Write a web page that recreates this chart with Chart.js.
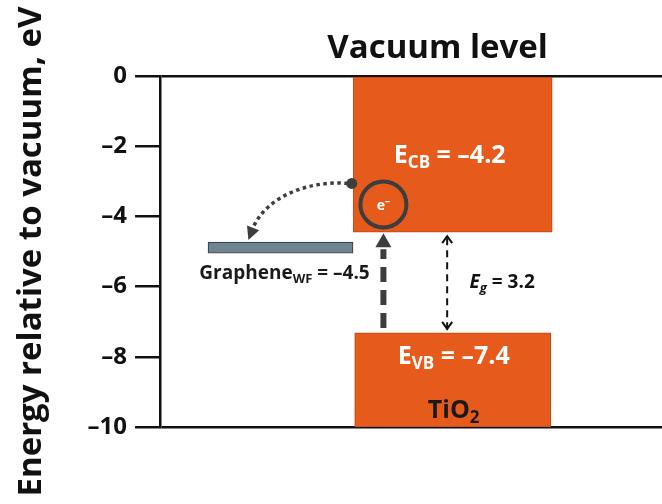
<!DOCTYPE html>
<html>
<head>
<meta charset="utf-8">
<script src="https://cdn.jsdelivr.net/npm/chart.js@4/dist/chart.umd.min.js"></script>
<style>
html, body { margin: 0; padding: 0; background: #fff; }
#wrap { width: 662px; height: 504px; }
</style>
</head>
<body>
<div id="wrap"><canvas id="myChart" width="662" height="504"></canvas></div>
<script>
// energy levels, eV relative to vacuum
var bandNames = ['TiO2 conduction band', 'TiO2 valence band', 'Graphene'];
var bandTop = [0, -7.32, -4.73];
var bandBottom = [-4.45, -10, -5.05];
var levelSubs = ['CB', 'VB', 'WF'];
var levelValues = [-4.2, -7.4, -4.5];
var bandGap = 3.2;
var electronLevel = -3.66;
var yTicks = [0, -2, -4, -6, -8, -10];

var ORANGE = '#E65B1C';
var DARK = '#3d3d3d';
var FONT = '"Open Sans", sans-serif';

Chart.defaults.font.family = FONT;

function fmt(v) {
	return v < 0 ? '\u2013' + Math.abs(v) : '' + v;
}

// draw text made of several runs (subscripts etc) centred on cx
function drawRuns(ctx, parts, cx, base, color) {
	var total = 0;
	parts.forEach(function(p) {
		ctx.font = (p.it ? 'italic ' : '') + 'bold ' + p.s + 'px ' + FONT;
		p.w = ctx.measureText(p.t).width;
		total += p.w;
	});
	var x = cx - total / 2;
	ctx.fillStyle = color;
	ctx.textAlign = 'left';
	ctx.textBaseline = 'alphabetic';
	parts.forEach(function(p) {
		ctx.font = (p.it ? 'italic ' : '') + 'bold ' + p.s + 'px ' + FONT;
		ctx.fillText(p.t, x, base + (p.dy || 0));
		x += p.w;
	});
}

function head(ctx, tx, ty, ang, len, hw, filled) {
	var bx = tx - Math.cos(ang) * len, by = ty - Math.sin(ang) * len;
	var nx = -Math.sin(ang) * hw, ny = Math.cos(ang) * hw;
	ctx.beginPath();
	ctx.setLineDash([]);
	if (filled) {
		ctx.moveTo(tx, ty);
		ctx.lineTo(bx + nx, by + ny);
		ctx.lineTo(bx - nx, by - ny);
		ctx.closePath();
		ctx.fill();
	} else {
		ctx.moveTo(bx + nx, by + ny);
		ctx.lineTo(tx, ty);
		ctx.lineTo(bx - nx, by - ny);
		ctx.stroke();
	}
}

var overlay = {
	id: 'overlay',
	afterDraw: function(chart) {
		var ctx = chart.ctx;
		var xs = chart.scales.x, ys = chart.scales.y;
		var px = function(u) { return xs.getPixelForValue(u); };
		var py = function(v) { return ys.getPixelForValue(v); };
		ctx.save();

		//vacuum level title
		drawRuns(ctx, [{t: 'Vacuum level', s: 33}], px(55.3), py(0) - 18, '#111');

		//band labels
		drawRuns(ctx, [{t: 'E', s: 25}, {t: levelSubs[0], s: 17, dy: 5}, {t: ' = ' + fmt(levelValues[0]), s: 25}],
			px(58.3) - 3, py(bandTop[0]) + 87, '#fff');
		drawRuns(ctx, [{t: 'E', s: 25}, {t: levelSubs[1], s: 17, dy: 5}, {t: ' = ' + fmt(levelValues[1]), s: 25}],
			px(58.3) + 1, py(bandTop[1]) + 31, '#fff');
		drawRuns(ctx, [{t: 'TiO', s: 25}, {t: '2', s: 17, dy: 5}], px(58.3) + 1, py(-10) - 9, '#1a1a1a');
		drawRuns(ctx, [{t: 'Graphene', s: 19}, {t: levelSubs[2], s: 13, dy: 4}, {t: ' = ' + fmt(levelValues[2]), s: 19}],
			px(24) + 4, py(bandBottom[2]) + 26, '#1a1a1a');

		//band gap arrow
		var gx = px(57.2);
		var gTop = py(bandBottom[0]) + 4, gBot = py(bandTop[1]) - 4;
		ctx.strokeStyle = '#111';
		ctx.fillStyle = '#111';
		ctx.lineWidth = 2;
		ctx.setLineDash([7, 5]);
		ctx.beginPath();
		ctx.moveTo(gx, gTop + 2);
		ctx.lineTo(gx, gBot - 2);
		ctx.stroke();
		head(ctx, gx, gTop, -Math.PI / 2, 7, 5, false);
		head(ctx, gx, gBot, Math.PI / 2, 7, 5, false);
		drawRuns(ctx, [{t: 'E', s: 19, it: true}, {t: 'g', s: 13, it: true, dy: 4}, {t: ' = ' + bandGap, s: 19}],
			gx + 55, (gTop + gBot) / 2 + 5, '#111');

		//electron excitation arrow
		var ex = px(44.5);
		var tip = py(bandBottom[0]) + 1;
		var bot = py(bandTop[1]) - 5;
		ctx.strokeStyle = DARK;
		ctx.fillStyle = DARK;
		ctx.lineWidth = 6;
		ctx.setLineDash([15, 8]);
		ctx.beginPath();
		ctx.moveTo(ex, bot);
		ctx.lineTo(ex, tip + 16);
		ctx.stroke();
		head(ctx, ex, tip, -Math.PI / 2, 14, 8, true);

		//electron
		var ey = py(electronLevel);
		ctx.lineWidth = 4;
		ctx.setLineDash([]);
		ctx.beginPath();
		ctx.arc(ex, ey, 23, 0, Math.PI * 2);
		ctx.stroke();
		drawRuns(ctx, [{t: 'e', s: 14}, {t: '\u2013', s: 10, dy: -6}], ex, ey + 6, '#fff');

		//transfer to graphene (dotted curve)
		ctx.fillStyle = DARK;
		ctx.strokeStyle = DARK;
		var dx = px(38.4) - 1, dy = py(-3.06);
		ctx.beginPath();
		ctx.arc(dx, dy, 5.5, 0, Math.PI * 2);
		ctx.fill();
		var x3 = px(18.6), y3 = py(-4.3);
		ctx.lineWidth = 3.5;
		ctx.setLineDash([3.5, 3.5]);
		ctx.beginPath();
		ctx.moveTo(dx - 4, dy);
		ctx.bezierCurveTo(dx - 42, dy - 3, dx - 84, dy + 12, x3, y3);
		ctx.stroke();
		head(ctx, x3 - 5, y3 + 13, Math.atan2(13, -5), 13, 6.5, true);

		ctx.restore();
	}
};

var ctx = document.getElementById('myChart').getContext('2d');
var chart = new Chart(ctx, {
	type: 'bar',
	data: {
		datasets: [
			{
				label: bandNames[0],
				data: [{x: 58.3, y: [bandTop[0], bandBottom[0]]}],
				backgroundColor: ORANGE,
				borderColor: '#c44c14',
				barThickness: 199
			},
			{
				label: bandNames[1],
				data: [{x: 58.3, y: [bandTop[1], bandBottom[1]]}],
				backgroundColor: ORANGE,
				borderColor: '#c44c14',
				barThickness: 196
			},
			{
				label: bandNames[2],
				data: [{x: 24, y: [bandTop[2], bandBottom[2]]}],
				backgroundColor: '#6f8390',
				borderColor: '#38444d',
				barThickness: 145
			}
		]
	},
	options: {
		responsive: false,
		animation: false,
		layout: {padding: {top: 76, bottom: 77, left: 12, right: 0}},
		datasets: {bar: {grouped: false, borderWidth: 1.2, borderSkipped: false}},
		plugins: {legend: {display: false}, tooltip: {enabled: false}},
		scales: {
			x: {type: 'linear', min: 0, max: 100, display: false, offset: false},
			y: {
				min: -10,
				max: 0,
				z: 1,
				afterBuildTicks: function(scale) {
					scale.ticks = yTicks.map(function(v) { return {value: v}; });
				},
				ticks: {
					callback: function(v) { return fmt(v); },
					color: '#111',
					padding: 8,
					font: {size: 24, weight: 'bold'}
				},
				grid: {
					color: function(c) {
						return (c.tick && (c.tick.value === 0 || c.tick.value === -10)) ? '#111' : 'rgba(0,0,0,0)';
					},
					tickColor: '#111',
					tickLength: 25,
					lineWidth: 2.5
				},
				border: {color: '#111', width: 2.5},
				title: {
					display: true,
					text: 'Energy relative to vacuum, eV',
					color: '#111',
					font: {size: 33, weight: 'bold'},
					padding: {top: 0, bottom: 28}
				}
			}
		}
	},
	plugins: [overlay]
});
</script>
</body>
</html>
